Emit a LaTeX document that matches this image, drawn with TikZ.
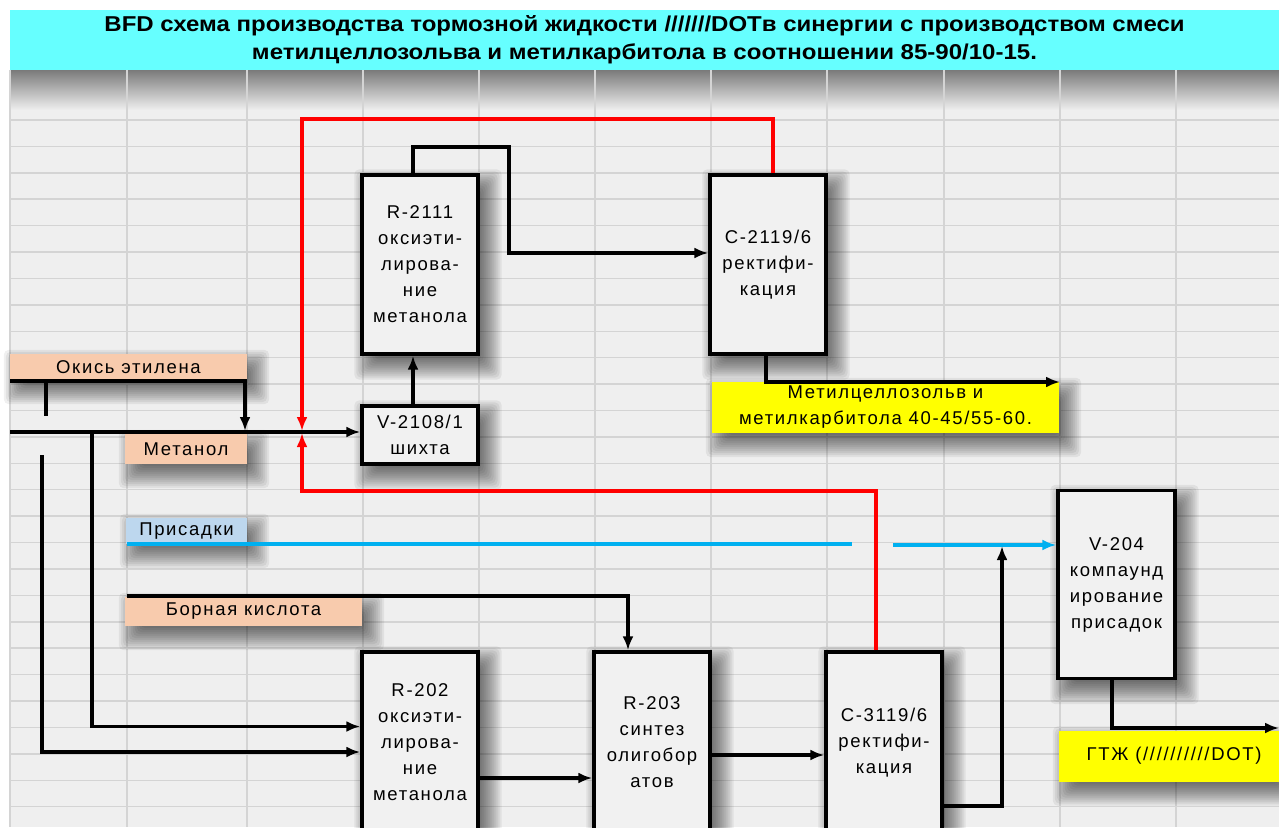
\documentclass[tikz,border=0pt]{standalone}
\usepackage{fontspec}
\setmainfont{Liberation Sans}
\newfontfamily\boxfnt[LetterSpace=9]{Liberation Sans}
\usetikzlibrary{arrows.meta,calc}
\definecolor{cyanT}{HTML}{66FFFF}
\definecolor{peach}{HTML}{F8CBAD}
\definecolor{lblue}{HTML}{BDD7EE}
\definecolor{ylw}{HTML}{FFFF00}
\definecolor{bluel}{HTML}{00B0F0}
\definecolor{redl}{HTML}{FF0000}
\definecolor{bgc}{HTML}{EFEFEF}
\definecolor{gridc}{HTML}{D4D4D4}
\definecolor{boxc}{HTML}{F1F1F1}
\pgfdeclarelayer{back}
\pgfdeclarelayer{shad}
\pgfsetlayers{back,shad,main}
\newcommand\softshade[1]{%
  \begin{pgfonlayer}{shad}
  \foreach \i in {0,...,13}{%
    \pgfmathsetmacro\ee{14-\i*2}
    \fill[black,opacity=0.06,rounded corners=5pt]
      ($(#1.north west)+(8-\ee,10-\ee)$) rectangle ($(#1.south east)+(8+\ee,10+\ee)$);
  }
  \end{pgfonlayer}}
\begin{document}
\begin{tikzpicture}[x=1pt,y=-1pt,
  proc/.style={draw=black,line width=3.4pt,fill=boxc,minimum width=116pt,inner sep=0pt,align=center,
    font=\boxfnt\fontsize{18.5}{26}\selectfont},
  lab/.style={inner sep=0pt,align=center,font=\boxfnt\fontsize{18.5}{26}\selectfont},
  line/.style={line width=3.2pt,black},
  flow/.style={line width=3.2pt,black,-{Latex[length=14pt,width=11pt]}},
  redflow/.style={line width=3.4pt,redl,-{Latex[length=14pt,width=11pt]}},
  blueline/.style={line width=3.2pt,bluel},
  blueflow/.style={line width=3.2pt,bluel,-{Latex[length=14pt,width=11pt]}},
  gridline/.style={gridc,line width=1.5pt}
]
\useasboundingbox (0,0) rectangle (1279,827);
\clip (0,0) rectangle (1279,827);
\begin{pgfonlayer}{back}
\fill[white] (0,0) rectangle (1279,827);
\fill[bgc] (10,70) rectangle (1279,827);
% shadow under title
\shade[top color=black!52,bottom color=bgc] (10,70) rectangle (1279,110);
% grid
\foreach \gx in {10,127,247,363,479,595,711,827,944,1060,1176}
  \draw[gridline] (\gx,70) -- (\gx,827);
\foreach \k in {0,...,26}
  \draw[gridline] (10,{120+26.41*\k}) -- (1279,{120+26.41*\k});
\end{pgfonlayer}
% title
\node[fill=cyanT,minimum width=1269pt,minimum height=60pt,inner sep=0pt,align=center,
  font=\bfseries\fontsize{21.5}{28}\selectfont] (title) at (644.5,40)
  {\resizebox{1080pt}{\height}{BFD схема производства тормозной жидкости ///////DOTв синергии с производством смеси}\\
   \resizebox{785pt}{\height}{метилцеллозольва и метилкарбитола в соотношении 85-90/10-15.}};
% labels
\node[lab,fill=peach,minimum width=237pt,minimum height=26pt] (lok) at (128.5,367) {Окись этилена};
\node[lab,fill=peach,minimum width=122pt,minimum height=30pt] (lme) at (186,449) {Метанол};
\node[lab,fill=lblue,minimum width=121pt,minimum height=26pt] (lpr) at (186.5,531) {Присадки};
\node[lab,fill=peach,minimum width=237pt,minimum height=29pt] (lbo) at (243.5,611.5) {Борная кислота};
\node[lab,fill=ylw,minimum width=347pt,minimum height=51pt] (lmc) at (885.5,407.5) {Метилцеллозольв и\\метилкарбитола 40-45/55-60.};
\node[lab,fill=ylw,minimum width=220pt,minimum height=51pt] (lgt) at (1169,756) {\hspace*{10pt}ГТЖ (//////////DOT)};
% boxes
\node[proc,minimum height=179pt] (R2111) at (420,264.5) {R-2111\\оксиэти-\\лирова-\\ние\\метанола};
\node[proc,minimum height=179pt] (C2119) at (768,264.5) {C-2119/6\\ректифи-\\кация};
\node[proc,minimum height=58pt] (V2108) at (420,435) {V-2108/1\\шихта};
\node[proc,minimum height=188pt,minimum width=117pt] (V204) at (1116.5,584.5) {V-204\\компаунд\\ирование\\присадок};
\node[proc,minimum height=181pt] (R202) at (420,742.5) {R-202\\оксиэти-\\лирова-\\ние\\метанола};
\node[proc,minimum height=181pt] (R203) at (652,742.5) {R-203\\синтез\\олигобор\\атов};
\node[proc,minimum height=181pt] (C3119) at (884,742.5) {C-3119/6\\ректифи-\\кация};
% soft shadows
\foreach \nn in {lok,lme,lpr,lbo,lmc,lgt,R2111,C2119,V2108,V204,R202,R203,C3119}{\softshade{\nn}}
% coordinates
\coordinate (okS) at (10,381);
\coordinate (mix1) at (245,431);
\coordinate (tk1) at (46,381);
\coordinate (tk2) at (46,416);
\coordinate (meS) at (10,432);
\coordinate (b92) at (92,432);
\coordinate (b42) at (42,455);
\coordinate (topA) at (509,147);
\coordinate (rA) at (302,119);
\coordinate (rT) at (302,431);
\coordinate (rB) at (302,491);
\coordinate (rB2) at (302,433);
\coordinate (mcE) at (1060,382);
\coordinate (blS) at (127,544);
\coordinate (blM) at (852,544);
\coordinate (blR) at (893,545);
\coordinate (boS) at (127,596);
\coordinate (upT) at (1002,546);
\coordinate (gE) at (1279,728);
% connectors
\draw[flow] (okS) -| (mix1);
\draw[line] (tk1) -- (tk2);
\draw[flow] (meS) -- (meS -| V2108.west);
\draw[flow] (b92) |- ([yshift=16pt]R202.west);
\draw[flow] (b42) |- ([yshift=-9.5pt]R202.west);
\draw[flow] ([xshift=-7pt]V2108.north) -- ([xshift=-7pt]R2111.south);
\draw[flow] ([xshift=-7pt]R2111.north) |- (topA) |- ([yshift=11.5pt]C2119.west);
\draw[redflow] ([xshift=5pt]C2119.north) |- (rA) -- (rT);
\draw[redflow] ([xshift=-8pt]C3119.north) |- (rB) -- (rB2);
\draw[flow] ([xshift=-2pt]C2119.south) |- (mcE);
\draw[blueline] (blS) -- (blM);
\draw[blueflow] (blR) -- (blR -| V204.west);
\draw[flow] (boS) -| ([xshift=-24pt]R203.north);
\draw[flow] ([yshift=-35.5pt]R202.east) -- ([yshift=-35.5pt]R202.east -| R203.west);
\draw[flow] ([yshift=-12.5pt]R203.east) -- ([yshift=-12.5pt]R203.east -| C3119.west);
\draw[flow] ([yshift=-63.5pt]C3119.east) -| (upT);
\draw[flow] ([xshift=-4.5pt]V204.south) |- (gE);
\end{tikzpicture}
\end{document}
